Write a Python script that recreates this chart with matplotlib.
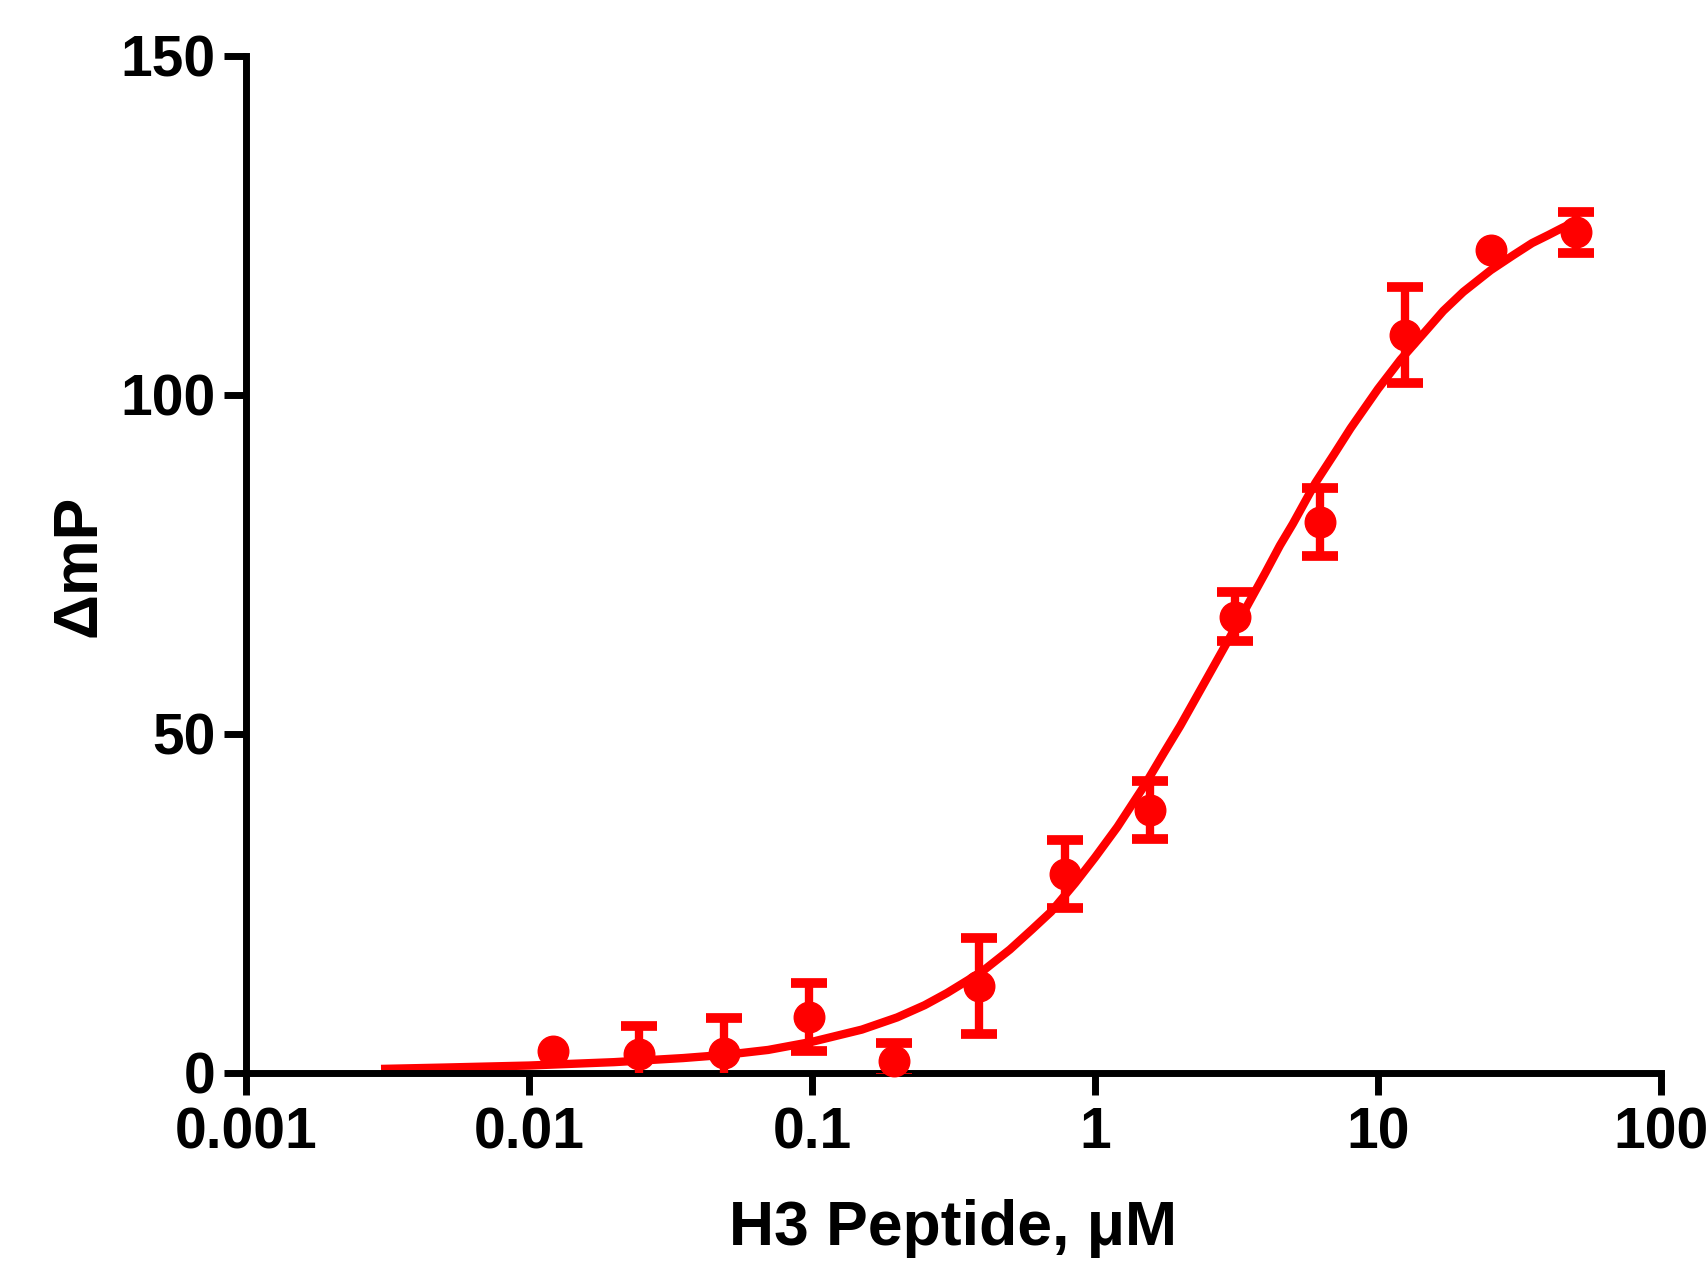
import matplotlib
matplotlib.use('Agg')
import matplotlib.pyplot as plt

plt.rcParams['font.family'] = ['Liberation Sans', 'DejaVu Sans']
plt.rcParams['font.weight'] = 'bold'

RED = '#FF0000'

# measured points (mean +/- SEM); None = bar shorter than the symbol, not drawn
conc = [0.0122, 0.0244, 0.0488, 0.0977, 0.195, 0.39, 0.78, 1.56, 3.125, 6.25, 12.5, 25, 50]
dmp = [3.2, 2.8, 3.0, 8.3, 1.8, 12.8, 29.4, 38.8, 67.3, 81.3, 108.9, 121.4, 124.0]
sem = [None, 4.1, 5.1, 5.0, 2.6, 7.1, 5.0, 4.3, 3.6, 5.0, 7.1, None, 3.0]

# fitted curve
fit_x = [0.003, 0.005, 0.01, 0.02, 0.035, 0.05, 0.07, 0.1, 0.15, 0.2, 0.25, 0.3, 0.4,
         0.5, 0.6, 0.7, 0.85, 1.0, 1.2, 1.5, 1.75, 2.0, 2.5, 3.0, 3.5, 4.0, 4.5,
         5.0, 6.0, 7.0, 8.0, 10.0, 12.0, 15.0, 17.0, 20.0, 25.0, 30.0, 35.0,
         40.0, 45.0, 50.0]
fit_y = [0.6, 0.8, 1.1, 1.6, 2.2, 2.7, 3.4, 4.6, 6.4, 8.2, 10.0, 11.8, 15.0,
         18.2, 21.2, 23.8, 28.0, 31.8, 36.3, 42.5, 47.2, 51.2, 58.4, 64.3, 69.4, 73.8, 77.8,
         81.0, 87.0, 91.3, 95.1, 100.9, 105.2, 109.8, 112.4, 115.2, 118.4, 120.6, 122.4,
         123.6, 124.7, 125.6]

xticks = [0.001, 0.01, 0.1, 1, 10, 100]
xtick_labels = ['0.001', '0.01', '0.1', '1', '10', '100']
yticks = [0, 50, 100, 150]

fig = plt.figure(figsize=(17.07, 12.61), dpi=100)
ax = fig.add_axes([0.1441, 0.1491, 0.9731 - 0.1441, 0.9556 - 0.1491])

ax.plot(fit_x, fit_y, color=RED, lw=6, solid_capstyle='butt',
        solid_joinstyle='round', zorder=2)

ex = [c for c, e in zip(conc, sem) if e is not None]
ey = [v for v, e in zip(dmp, sem) if e is not None]
ee = [e for e in sem if e is not None]
ax.errorbar(ex, ey, yerr=ee, fmt='none', ecolor=RED, elinewidth=6,
            capsize=13, capthick=7, zorder=3)
ax.plot(conc, dmp, 'o', color=RED, ms=22, mec=RED, clip_on=False, zorder=4)

ax.set_xscale('log')
ax.set_xlim(0.001, 100)
ax.set_ylim(0, 150)
ax.set_xticks(xticks)
ax.set_xticklabels(xtick_labels)
ax.minorticks_off()
ax.set_yticks(yticks)

for s in ['top', 'right']:
    ax.spines[s].set_visible(False)
for s in ['left', 'bottom']:
    ax.spines[s].set_linewidth(5)
    ax.spines[s].set_capstyle('projecting')

ax.tick_params(axis='both', direction='out', length=16, width=5, labelsize=41)
ax.tick_params(axis='x', pad=8)
ax.tick_params(axis='y', pad=6)
for lab in ax.get_xticklabels() + ax.get_yticklabels():
    lab.set_fontweight('bold')

fig.text(0.558, 0.0127, 'H3 Peptide, μM', ha='center', va='baseline',
         fontsize=45, fontweight='bold')
fig.text(0.046, 0.551, 'ΔmP', ha='center', va='center', rotation=90,
         fontsize=45, fontweight='bold')

fig.savefig('out.png', dpi=100, facecolor='white')
